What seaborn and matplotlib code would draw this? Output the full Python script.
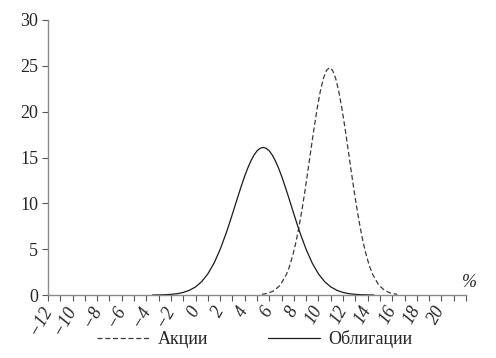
import numpy as np
import pandas as pd
import matplotlib
matplotlib.use("Agg")
import matplotlib.pyplot as plt
from matplotlib.ticker import FixedLocator
import seaborn as sns

# ---- data ----
bonds_x = [-3.5, -3.0, -2.5, -2.0, -1.5, -1.0, -0.5, 0.0, 0.5, 1.0, 1.5, 2.0,
           2.5, 2.75, 3.0, 3.25, 3.5, 3.75, 4.0, 4.25, 4.5, 4.75, 5.0, 5.25, 5.5,
           5.75, 6.0, 6.25, 6.5, 6.75, 7.0, 7.25, 7.5, 7.75, 8.0, 8.25, 8.5,
           9.0, 9.5, 10.0, 10.5, 11.0, 11.5, 12.0, 12.5, 13.0, 13.5, 14.0, 14.5]
bonds_y = [0.0, 0.01, 0.03, 0.07, 0.14, 0.28, 0.51, 0.88, 1.46, 2.30, 3.46, 4.96,
           6.78, 7.78, 8.83, 9.90, 10.96, 11.99, 12.97, 13.85, 14.62, 15.25, 15.72, 16.00, 16.10,
           16.00, 15.72, 15.25, 14.62, 13.85, 12.97, 11.99, 10.96, 9.90, 8.83, 7.78, 6.78,
           4.96, 3.46, 2.30, 1.46, 0.88, 0.51, 0.28, 0.14, 0.07, 0.03, 0.01, 0.0]

stocks_x = [5.4, 5.9, 6.4, 6.9, 7.4,
            7.65, 7.9, 8.15, 8.4, 8.65, 8.9, 9.15, 9.4, 9.65, 9.9, 10.15, 10.4, 10.65,
            10.9, 11.15, 11.4, 11.65, 11.9, 12.15, 12.4, 12.65, 12.9, 13.15, 13.4, 13.65,
            13.9, 14.15,
            14.4, 14.9, 15.4, 15.9, 16.4]
stocks_y = [0.07, 0.19, 0.48, 1.09, 2.27,
            3.15, 4.28, 5.66, 7.32, 9.23, 11.35, 13.64, 15.98, 18.28, 20.40, 22.22, 23.62, 24.50,
            24.80, 24.50, 23.62, 22.22, 20.40, 18.28, 15.98, 13.64, 11.35, 9.23, 7.32, 5.66,
            4.28, 3.15,
            2.27, 1.09, 0.48, 0.19, 0.07]

series_names = ["Акции", "Облигации"]
x_major_ticks = list(range(-12, 21, 2))
x_minor_ticks = list(range(-12, 23, 1))
y_ticks = [0, 5, 10, 15, 20, 25, 30]

df_bonds = pd.DataFrame({"x": bonds_x, "y": bonds_y})
df_stocks = pd.DataFrame({"x": stocks_x, "y": stocks_y})

sns.set_style("ticks")
plt.rcParams["font.family"] = ["Liberation Serif", "DejaVu Serif"]
plt.rcParams["axes.unicode_minus"] = True

fig = plt.figure(figsize=(4.96, 3.58), dpi=100)
ax = fig.add_axes([48 / 496, 1 - 295 / 358, 418 / 496, 275 / 358])

sns.lineplot(data=df_stocks, x="x", y="y", ax=ax, color="#3a3a3a", lw=0.9,
             label=series_names[0], linestyle=(0, (4, 2.2)), sort=False)
sns.lineplot(data=df_bonds, x="x", y="y", ax=ax, color="#1a1a1a", lw=0.9,
             label=series_names[1], sort=False)

ax.set_xlim(-12, 22)
ax.set_ylim(0, 30)
ax.set_xlabel("")
ax.set_ylabel("")

sns.despine(ax=ax)
gray = "#8a8a8a"
for s in ["left", "bottom"]:
    ax.spines[s].set_color(gray)
    ax.spines[s].set_linewidth(1.0)

ax.xaxis.set_major_locator(FixedLocator(x_major_ticks))
ax.xaxis.set_minor_locator(FixedLocator(x_minor_ticks))
ax.set_yticks(y_ticks)
ax.tick_params(axis="both", which="both", direction="out", color="#555555",
               width=0.8, length=4)
ax.tick_params(axis="y", labelsize=13, pad=3)
ax.tick_params(axis="x", labelsize=13, pad=5)
ax.set_yticklabels([str(v) for v in y_ticks])
ax.set_xticklabels([("\u2212" + str(-v)) if v < 0 else str(v) for v in x_major_ticks],
                   rotation=60, ha="right", va="center", rotation_mode="anchor",
                   fontstyle="italic")

ax.text(1.008, 0.045, "%", transform=ax.transAxes, fontsize=13, fontstyle="italic",
        ha="center", va="center")

leg = ax.legend(loc="center", bbox_to_anchor=(0.495, -0.16), ncol=2, frameon=False,
                fontsize=13, handlelength=2.9, handletextpad=0.45, columnspacing=3.3)

fig.savefig("out.png", dpi=100)
